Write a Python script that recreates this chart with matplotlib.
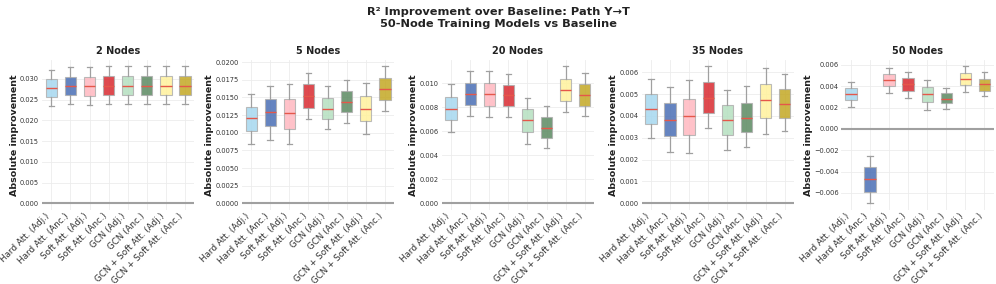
#!/usr/bin/env python3
"""R2 improvement boxplots, path Y->T"""

import matplotlib
matplotlib.use('Agg')
import matplotlib.pyplot as plt

models = ['Hard Att. (Adj.)', 'Hard Att. (Anc.)', 'Soft Att. (Adj.)', 'Soft Att. (Anc.)',
          'GCN (Adj.)', 'GCN (Anc.)', 'GCN + Soft Att. (Adj.)', 'GCN + Soft Att. (Anc.)']
colors = ['#a6d8ef', '#4a6fb5', '#ffb8c0', '#d92a30',
          '#b5e0c0', '#5c8a62', '#fff29c', '#c4a824']

panels = ['2 Nodes', '5 Nodes', '20 Nodes', '35 Nodes', '50 Nodes']

# per panel: whisker low, q1, median, q3, whisker high (one value per model)
whislo = [
  [0.0234, 0.0240, 0.0238, 0.0240, 0.0240, 0.0240, 0.0240, 0.0240],
  [0.00847, 0.00904, 0.00838, 0.0119, 0.01049, 0.01144, 0.00988, 0.01313],
  [0.00594, 0.00730, 0.00715, 0.00720, 0.00497, 0.00464, 0.00760, 0.00724],
  [0.00299, 0.00235, 0.00228, 0.00346, 0.00246, 0.00258, 0.00316, 0.00330],
  [0.00203, -0.00697, 0.00338, 0.00291, 0.00178, 0.00188, 0.00344, 0.00303],
]
q1 = [
  [0.0256, 0.0262, 0.0260, 0.0262, 0.0262, 0.0262, 0.0262, 0.0262],
  [0.01026, 0.01092, 0.01059, 0.01351, 0.01195, 0.0129, 0.01162, 0.01459],
  [0.00691, 0.00820, 0.00808, 0.00807, 0.00594, 0.00544, 0.00851, 0.00809],
  [0.00365, 0.00308, 0.00311, 0.00415, 0.00314, 0.00324, 0.00392, 0.00390],
  [0.00266, -0.00588, 0.00400, 0.00350, 0.00250, 0.00240, 0.00406, 0.00359],
]
med = [
  [0.02776, 0.02824, 0.02824, 0.0284, 0.0284, 0.0284, 0.0284, 0.0284],
  [0.01214, 0.01289, 0.01285, 0.0152, 0.01341, 0.01435, 0.01341, 0.01614],
  [0.00787, 0.00906, 0.00906, 0.00900, 0.00691, 0.00627, 0.00945, 0.00900],
  [0.00430, 0.00383, 0.00398, 0.00483, 0.00383, 0.00390, 0.00471, 0.00456],
  [0.00322, -0.00469, 0.00459, 0.00422, 0.00322, 0.00281, 0.00466, 0.00416],
]
q3 = [
  [0.0300, 0.0304, 0.0304, 0.0306, 0.0306, 0.0306, 0.0306, 0.0306],
  [0.01365, 0.01473, 0.01473, 0.01685, 0.01496, 0.0159, 0.0152, 0.01774],
  [0.00884, 0.00998, 0.00998, 0.00986, 0.00782, 0.00718, 0.01036, 0.00994],
  [0.00498, 0.00459, 0.00479, 0.00554, 0.00448, 0.00460, 0.00544, 0.00521],
  [0.00381, -0.00359, 0.00516, 0.00475, 0.00390, 0.00334, 0.00522, 0.00469],
]
whishi = [
  [0.03216, 0.0328, 0.0328, 0.0330, 0.0330, 0.0330, 0.0330, 0.0330],
  [0.01544, 0.01656, 0.01685, 0.01845, 0.01656, 0.0175, 0.01704, 0.01939],
  [0.00994, 0.01097, 0.01097, 0.01077, 0.00878, 0.00807, 0.01138, 0.01086],
  [0.00567, 0.00532, 0.00562, 0.00626, 0.00520, 0.00536, 0.00620, 0.00592],
  [0.00438, -0.00250, 0.00572, 0.00531, 0.00459, 0.00381, 0.00584, 0.00531],
]

plt.rcParams['font.family'] = ['DejaVu Sans']

fig, axes = plt.subplots(1, 5, figsize=(9.96, 2.84), dpi=100)
fig.subplots_adjust(left=0.042, right=0.998, top=0.79, bottom=0.26, wspace=0.31)

for p, ax in enumerate(axes):
  stats = []
  for i, name in enumerate(models):
    stats.append({'label': name, 'whislo': whislo[p][i], 'q1': q1[p][i], 'med': med[p][i],
                  'q3': q3[p][i], 'whishi': whishi[p][i], 'fliers': []})
  bp = ax.bxp(stats, widths=0.6, patch_artist=True, showfliers=False,
              boxprops=dict(edgecolor='#b0b0b0', linewidth=0.8),
              whiskerprops=dict(color='#a0a0a0', linewidth=0.9),
              capprops=dict(color='#a0a0a0', linewidth=0.9),
              medianprops=dict(color='#e5574a', linewidth=1.0))
  for patch, c in zip(bp['boxes'], colors):
    patch.set_facecolor(c)
    patch.set_alpha(0.85)
  ax.axhline(0, color='#a0a0a0', linewidth=1.5, zorder=1)
  ax.set_title(panels[p], fontsize=7, fontweight='bold', pad=4, color='#222222')
  ax.set_ylabel('Absolute improvement', fontsize=6.8, fontweight='bold', labelpad=1, color='#222222')
  ax.set_xticks(range(1, len(models) + 1))
  ax.set_xticklabels(models, rotation=45, ha='right', fontsize=6.3)
  ax.tick_params(axis='y', labelsize=4.8, length=0, pad=2, colors='#333333')
  ax.tick_params(axis='x', length=0, pad=1, colors='#333333')
  ax.grid(True, color='#ececec', linewidth=0.6)
  ax.set_axisbelow(True)
  for s in ax.spines.values():
    s.set_visible(False)

fig.suptitle('R\u00b2 Improvement over Baseline: Path Y\u2192T\n50-Node Training Models vs Baseline',
             fontsize=8.2, fontweight='bold', y=0.975, color='#222222', linespacing=1.2)

fig.savefig('out.png', dpi=100)
